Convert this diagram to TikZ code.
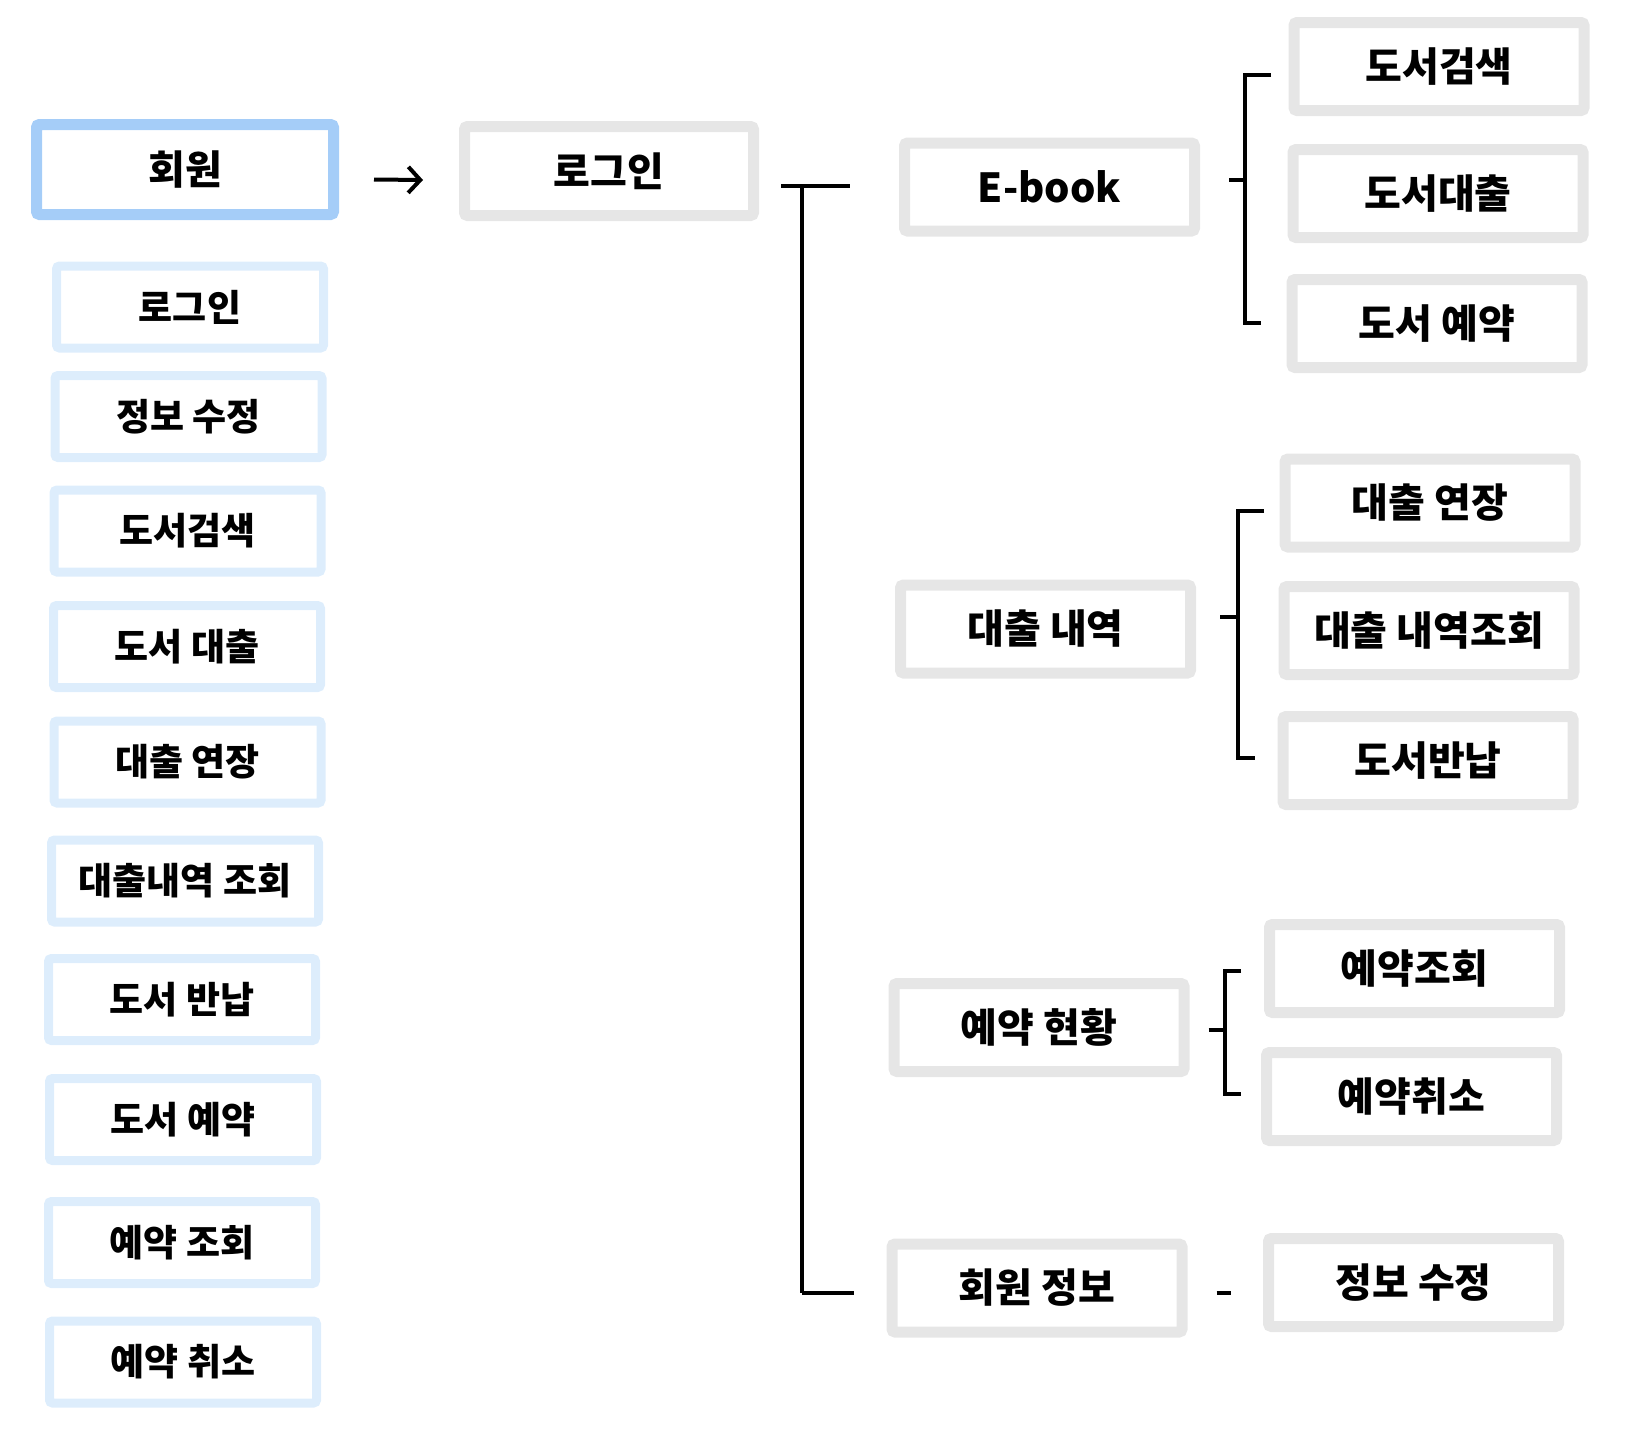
\documentclass[tikz,border=0pt]{standalone}
\usepackage{fontspec}
\setmainfont{Noto Sans CJK KR}
\usetikzlibrary{arrows.meta}
\definecolor{headblue}{HTML}{A5CDF8}
\definecolor{paleblue}{HTML}{DDEDFC}
\definecolor{boxgray}{HTML}{E6E6E6}
\tikzset{
  leftbox/.style={draw=paleblue, line width=9pt, rounded corners=3pt, minimum width=267pt, minimum height=82pt, inner sep=0pt, font=\fontsize{37}{40}\selectfont\bfseries},
  headbox/.style={draw=headblue, line width=11pt, rounded corners=3pt, minimum width=297pt, minimum height=90pt, inner sep=0pt, font=\fontsize{40}{44}\selectfont\bfseries},
  graybox/.style={draw=boxgray, line width=11pt, rounded corners=3pt, minimum width=290pt, minimum height=88pt, inner sep=0pt, font=\fontsize{40}{44}\selectfont\bfseries},
  link/.style={line width=4pt},
  arr/.style={line width=4pt, -{Straight Barb[length=12pt,width=26pt]}}
}
\begin{document}
\begin{tikzpicture}[x=1pt,y=-1pt]
		\useasboundingbox (0,0) rectangle (1626,1430);
		\node [headbox] (hoewon) at (185,169.5) {회원};
		\node [leftbox] (l1) at (190,307) {로그인};
		\node [leftbox] (l2) at (188.5,416.5) {정보 수정};
		\node [leftbox] (l3) at (187.5,531) {도서검색};
		\node [leftbox] (l4) at (187,646.5) {도서 대출};
		\node [leftbox] (l5) at (187.5,762) {대출 연장};
		\node [leftbox] (l6) at (185,881) {대출내역 조회};
		\node [leftbox] (l7) at (182,999.5) {도서 반납};
		\node [leftbox] (l8) at (183,1119.5) {도서 예약};
		\node [leftbox] (l9) at (182,1242.5) {예약 조회};
		\node [leftbox] (l10) at (183,1362) {예약 취소};
		\node [graybox, minimum width=289pt, minimum height=89pt] (login) at (609,171) {로그인};
		\draw [arr] ([xshift=35pt,yshift=-10pt]hoewon.east) -- ([xshift=-36pt,yshift=-9pt]login.west);
		\node [graybox] (ebook) at (1049.5,187) {E-book};
		\node [graybox] (loan) at (1045.5,629) {대출 내역};
		\node [graybox] (resv) at (1039,1027.5) {예약 현황};
		\node [graybox] (minfo) at (1037,1288) {회원 정보};
		\node [graybox] (r1) at (1439,66.5) {도서검색};
		\node [graybox] (r2) at (1438,193.5) {도서대출};
		\node [graybox] (r3) at (1437,323.5) {도서 예약};
		\node [graybox] (r4) at (1430,503) {대출 연장};
		\node [graybox] (r5) at (1429,630.5) {대출 내역조회};
		\node [graybox] (r6) at (1428,760.5) {도서반납};
		\node [graybox] (r7) at (1414.5,968.5) {예약조회};
		\node [graybox] (r8) at (1411.5,1096.5) {예약취소};
		\node [graybox] (r9) at (1413.5,1282.5) {정보 수정};
		\coordinate (top) at (802,186);
		\coordinate (bot) at (802,1293);
		\draw [link] ([xshift=22pt,yshift=-15pt]login.east) -- (top);
		\draw [link, shorten >=49pt] (top) -- (top -| ebook.west);
		\draw [link] (top) -- (bot);
		\draw [link, shorten >=33pt] (bot) -- (bot -| minfo.west);
		\coordinate (ebj) at (1245,180);
		\coordinate (eba) at (1271,75);
		\coordinate (ebb) at (1261,323);
		\draw [link, shorten <=29pt] (ebook.east |- ebj) -- (ebj);
		\draw [link] (eba) -| (ebb -| ebj) -- (ebb);
		\coordinate (lnj) at (1238,617);
		\coordinate (lna) at (1264,511);
		\coordinate (lnb) at (1255,758);
		\draw [link, shorten <=24pt] (loan.east |- lnj) -- (lnj);
		\draw [link] (lna) -| (lnb -| lnj) -- (lnb);
		\coordinate (rsj) at (1225,1030);
		\coordinate (rsa) at (1241,971);
		\coordinate (rsb) at (1241,1094);
		\draw [link, shorten <=19pt] (resv.east |- rsj) -- (rsj);
		\draw [link] (rsa) -| (rsb -| rsj) -- (rsb);
		\draw [link, shorten <=29pt, shorten >=32pt] ([yshift=-5pt]minfo.east) -- ([yshift=-5pt]minfo.east -| r9.west);
	\end{tikzpicture}
\end{document}
